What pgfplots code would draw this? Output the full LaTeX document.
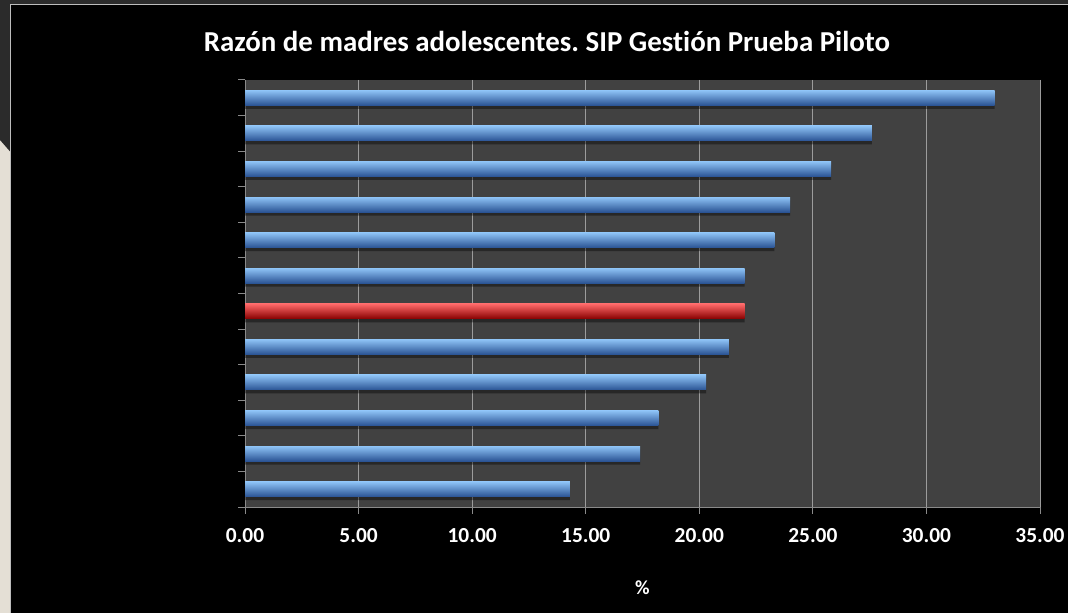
\documentclass[border=0pt]{standalone}
\usepackage{pgfplots}
\pgfplotsset{compat=1.18}
\usepackage{fontspec}
\setmainfont{Carlito}[Ligatures=NoCommon]
\frenchspacing

\definecolor{slidebeige}{HTML}{E4DFD5}
\definecolor{slidedark}{HTML}{2B2B2B}
\definecolor{framegray}{HTML}{BDBDBD}
\definecolor{plotbg}{HTML}{414141}
\definecolor{gridgray}{HTML}{9C9C9C}
\definecolor{axisgray}{HTML}{8A8A8A}
\definecolor{bluetop}{HTML}{8EC3F6}
\definecolor{bluemid}{HTML}{5595E2}
\definecolor{bluebot}{HTML}{2A5394}
\definecolor{redtop}{HTML}{FF6A6A}
\definecolor{redmid}{HTML}{E31212}
\definecolor{redbot}{HTML}{880000}

\pgfplotsset{
  bluebar/.style={draw=none, top color=bluetop, middle color=bluemid, bottom color=bluebot, bar shift=0pt},
  redbar/.style={draw=none, top color=redtop, middle color=redmid, bottom color=redbot, bar shift=0pt},
  shadowbar/.style={draw=none, fill=black, fill opacity=0.4, bar shift=-3.5bp, forget plot},
}

% ratio per group, top (1) to bottom (12); group 7 is highlighted
\pgfplotstableread{
pos val
1  33.0
2  27.6
3  25.8
4  24.0
5  23.3
6  22.0
7  22.0
8  21.3
9  20.3
10 18.2
11 17.4
12 14.3
}\ratios

\begin{document}
\begin{tikzpicture}[x=1bp,y=1bp]
\useasboundingbox (0,0) rectangle (1068,613);
% slide background and frame
\fill[black] (0,0) rectangle (1068,613);
\fill[slidebeige] (0,0) rectangle (10.5,613);
\fill[slidedark] (0,613) -- (0,473) -- (10.5,461) -- (10.5,609) -- (1068,609) -- (1068,613) -- cycle;
\draw[framegray, line width=1.2] (10.5,0) -- (10.5,608.8) -- (1068,608.8);

\node[text=white, font=\fontsize{29}{34}\selectfont\bfseries] at (547,572)
  {Razón de madres adolescentes. SIP Gest\kern0ptión Prueba Piloto};

\begin{axis}[
  at={(245bp,106bp)}, anchor=south west,
  width=795bp, height=427bp, scale only axis,
  xmin=0, xmax=35, ymin=0.5, ymax=12.5,
  y dir=reverse,
  axis background/.style={fill=plotbg},
  axis x line*=bottom, axis y line*=left,
  axis line style={-, draw=axisgray, line width=1bp},
  xtick={0,5,...,35},
  ytick={0.5,1.5,...,12.5}, yticklabels={},
  tick align=outside, major tick length=7bp,
  tick style={draw=axisgray, line width=1bp},
  xmajorgrids,
  major grid style={draw=gridgray, line width=1bp},
  /pgf/number format/assume math mode=true,
  /pgf/number format/.cd, fixed, fixed zerofill, precision=2, /pgfplots/.cd,
  xticklabel style={text=white, font=\fontsize{21.5}{25}\selectfont\bfseries, yshift=-11bp},
  xlabel={\%},
  every axis x label/.style={at={(axis description cs:0.5,0)}, anchor=center,
    yshift=-81bp, text=white, font=\fontsize{20}{24}\selectfont\bfseries},
  xbar, bar width=15bp,
]
% soft shadow under the bars
\addplot[shadowbar] table[x=val, y=pos] {\ratios};
% each bar as its own plot so that its shading is its own
\addplot[bluebar] coordinates {(33.0,1)};
\addplot[bluebar] coordinates {(27.6,2)};
\addplot[bluebar] coordinates {(25.8,3)};
\addplot[bluebar] coordinates {(24.0,4)};
\addplot[bluebar] coordinates {(23.3,5)};
\addplot[bluebar] coordinates {(22.0,6)};
\addplot[redbar]  coordinates {(22.0,7)};
\addplot[bluebar] coordinates {(21.3,8)};
\addplot[bluebar] coordinates {(20.3,9)};
\addplot[bluebar] coordinates {(18.2,10)};
\addplot[bluebar] coordinates {(17.4,11)};
\addplot[bluebar] coordinates {(14.3,12)};
\end{axis}
\end{tikzpicture}
\end{document}
